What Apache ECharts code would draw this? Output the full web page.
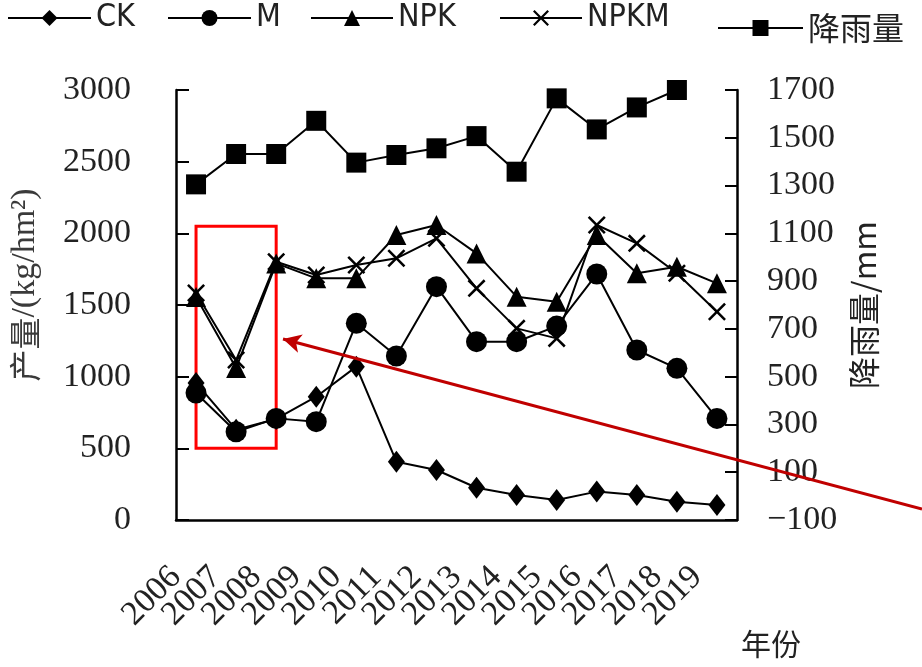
<!DOCTYPE html>
<html><head><meta charset="utf-8">
<script src="https://cdn.jsdelivr.net/npm/echarts@6/dist/echarts.min.js"></script>
<style>html,body{margin:0;padding:0;background:#fff}#c{width:922px;height:667px}</style>
</head><body><div id="c"></div>
<script>
const years = ['2006','2007','2008','2009','2010','2011','2012','2013','2014','2015','2016','2017','2018','2019'];
const ck   = [956, 630, 705, 860, 1070, 407, 349, 225, 174, 140, 198, 174, 128, 105];
const m    = [886, 616, 709, 686, 1372, 1144, 1628, 1244, 1244, 1353, 1716, 1186, 1058, 709];
const npk  = [1556, 1060, 1790, 1686, 1686, 1988, 2058, 1860, 1558, 1523, 1988, 1721, 1767, 1651];
const npkm = [1584, 1116, 1802, 1709, 1779, 1826, 1965, 1616, 1337, 1267, 2058, 1930, 1721, 1453];
const rain = [1305, 1432, 1432, 1571, 1396, 1428, 1456, 1507, 1358, 1665, 1535, 1627, 1700, null];
const leftTicks = [0, 500, 1000, 1500, 2000, 2500, 3000];
const rightTicks = [-100, 100, 300, 500, 700, 900, 1100, 1300, 1500, 1700];

const serif = "'Liberation Serif','Times New Roman',serif";
const cjk = "'Noto Sans CJK SC',sans-serif";
const narrow = "'Liberation Sans Narrow','DejaVu Sans Condensed','Liberation Sans',sans-serif";
const ink = '#222';
const xPath = 'path://M1,0 L5,4 L9,0 L10,1 L6,5 L10,9 L9,10 L5,6 L1,10 L0,9 L4,5 L0,1 Z';
const fmt = v => String(v).replace('-', '\u2212');

function mkSeries(name, data, symbol, size, yIdx) {
  return {
    name, type: 'line', data, yAxisIndex: yIdx || 0, xAxisIndex: 0,
    symbol, symbolSize: size, showAllSymbol: true, connectNulls: false, clip: false,
    lineStyle: { color: '#000', width: 2 },
    itemStyle: { color: '#000', borderColor: '#000', borderWidth: 0 },
    emphasis: { disabled: true }, animation: false
  };
}
function mkLegend(name, left, top, w, font, fs) {
  return {
    data: [name], left, top, itemWidth: w, itemHeight: 20, padding: 0,
    textStyle: { fontFamily: font, fontSize: fs, color: ink }, selectedMode: false
  };
}

const chart = echarts.init(document.getElementById('c'), null, { renderer: 'canvas' });
const sCK = mkSeries('CK', ck, 'diamond', [17, 22]);
sCK.markArea = {
  silent: true,
  itemStyle: { color: 'rgba(0,0,0,0)', borderColor: '#ff0000', borderWidth: 3 },
  data: [[{ xAxis: '2006', yAxis: 500 }, { xAxis: '2008', yAxis: 2050 }]]
};
sCK.markLine = {
  silent: true, symbol: ['none', 'arrow'], symbolSize: [14, 18],
  lineStyle: { color: '#c00000', width: 3, type: 'solid' },
  label: { show: false },
  data: [[{ x: 922, y: 509 }, { x: 283, y: 339 }]]
};
const option = {
  animation: false,
  backgroundColor: '#fff',
  title: { text: '年份', left: 736, top: 624, textStyle: { fontFamily: cjk, fontSize: 30, fontWeight: 'normal', color: ink } },
  legend: [
    mkLegend('CK', 7, 2, 83, narrow, 32),
    mkLegend('M', 167, 2, 83, narrow, 32),
    mkLegend('NPK', 310, 2, 82, narrow, 32),
    mkLegend('NPKM', 499, 2, 82, narrow, 32),
    mkLegend('降雨量', 717, 12, 85, cjk, 32)
  ],
  grid: { left: 173, right: 185, top: 90, bottom: 147, containLabel: false },
  xAxis: [{
    type: 'category', data: years, boundaryGap: true, position: 'bottom',
    axisLine: { lineStyle: { color: '#000', width: 2.5 } },
    axisTick: { inside: true, length: 12, interval: 0, lineStyle: { color: '#000', width: 2 } },
    axisLabel: { show: false }, splitLine: { show: false }
  }, {
    type: 'category', data: years.concat(['']), boundaryGap: false, position: 'bottom',
    axisLine: { show: false }, axisTick: { show: false }, splitLine: { show: false },
    axisLabel: { interval: 0, rotate: 45, margin: 52, fontFamily: serif, fontSize: 34, color: ink, hideOverlap: false }
  }],
  yAxis: [{
    type: 'value', min: 0, max: 3000, interval: 500, position: 'left',
    name: '{a|产量}{b|/(kg/hm²)}', nameLocation: 'middle', nameRotate: 90, nameGap: 134,
    nameTextStyle: { padding: [0, 0, 0, 40], rich: { a: { fontFamily: cjk, fontSize: 32, color: '#3a3a3a' }, b: { fontFamily: serif, fontSize: 34, color: '#3a3a3a' } } },
    axisLine: { show: true, lineStyle: { color: '#000', width: 2.5 } },
    axisTick: { show: true, inside: true, length: 13, lineStyle: { color: '#000', width: 2 } },
    axisLabel: { margin: 45, fontFamily: serif, fontSize: 34, color: ink, customValues: leftTicks, formatter: fmt },
    splitLine: { show: false }
  }, {
    type: 'value', min: -100, max: 1700, interval: 200, position: 'right',
    name: '降雨量/mm', nameLocation: 'middle', nameRotate: 90, nameGap: 100,
    nameTextStyle: { fontFamily: cjk, fontSize: 32, color: ink },
    axisLine: { show: true, lineStyle: { color: '#000', width: 2.5 } },
    axisTick: { show: true, inside: true, length: 12, lineStyle: { color: '#000', width: 2 }, customValues: rightTicks },
    axisLabel: { margin: 30, fontFamily: serif, fontSize: 34, color: ink, customValues: rightTicks, formatter: fmt },
    splitLine: { show: false }
  }],
  series: [
    sCK,
    mkSeries('M', m, 'circle', 21),
    mkSeries('NPK', npk, 'triangle', 20),
    mkSeries('NPKM', npkm, xPath, 18),
    mkSeries('降雨量', rain, 'rect', 20, 1)
  ]
};
chart.setOption(option);
</script></body></html>
